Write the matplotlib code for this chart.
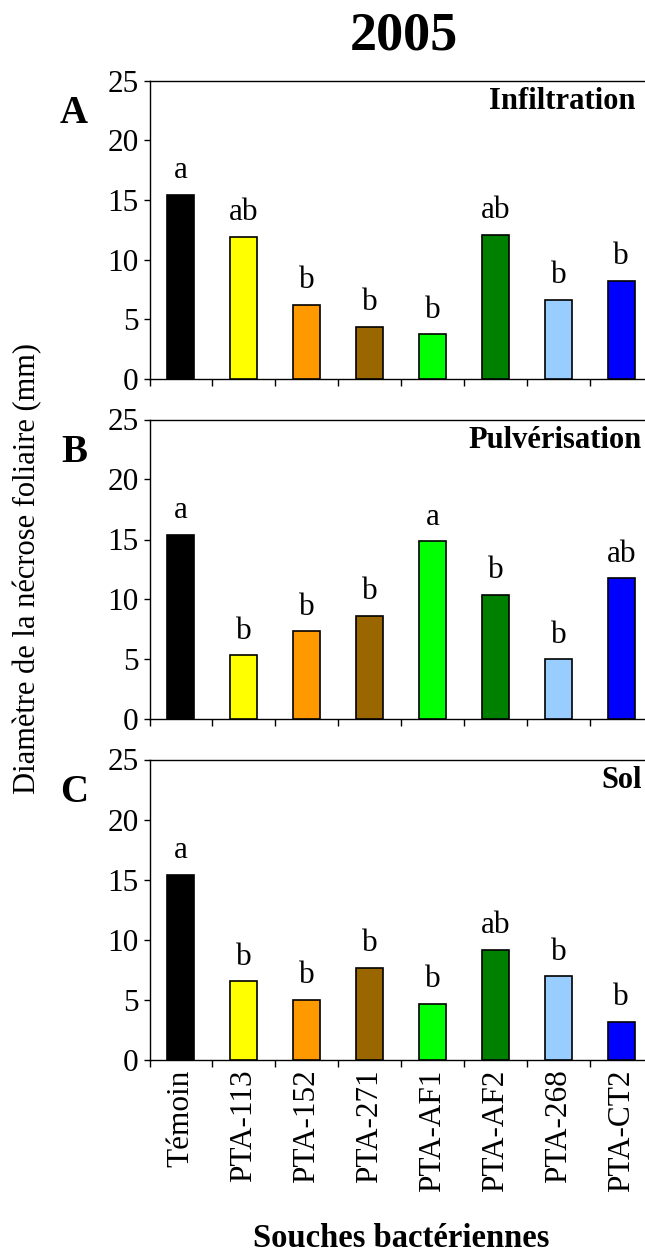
import matplotlib
matplotlib.use('Agg')
import matplotlib.pyplot as plt

# Données (diamètre de la nécrose, mm)
souches = ['Témoin', 'PTA-113', 'PTA-152', 'PTA-271', 'PTA-AF1', 'PTA-AF2', 'PTA-268', 'PTA-CT2']
couleurs = ['#000000', '#FFFF00', '#FF9900', '#996600', '#00FF00', '#008000', '#99CCFF', '#0000FF']

infiltration = [15.45, 11.9, 6.2, 4.35, 3.75, 12.05, 6.6, 8.2]
infiltration_lettres = ['a', 'ab', 'b', 'b', 'b', 'ab', 'b', 'b']

pulverisation = [15.4, 5.35, 7.35, 8.65, 14.85, 10.4, 5.0, 11.75]
pulverisation_lettres = ['a', 'b', 'b', 'b', 'a', 'b', 'b', 'ab']

sol = [15.4, 6.55, 5.0, 7.65, 4.7, 9.15, 6.95, 3.2]
sol_lettres = ['a', 'b', 'b', 'b', 'b', 'ab', 'b', 'b']

W, H = 645, 1257
plt.rcParams['font.family'] = ['Liberation Serif', 'DejaVu Serif']

fig = plt.figure(figsize=(W / 100, H / 100), dpi=100)
fig.patch.set_facecolor('white')


def px(x, y):
    # pixels -> coordonnées figure
    return x / W, 1 - y / H


panneaux = [
    ('A', 'Infiltration', infiltration, infiltration_lettres, 80.5, 379.0, 635),
    ('B', 'Pulvérisation', pulverisation, pulverisation_lettres, 419.5, 719.5, 642),
    ('C', 'Sol', sol, sol_lettres, 759.5, 1060.0, 642),
]

left, right = 149.5, 652.7
x = list(range(len(souches)))

for i, (lettre, titre, valeurs, groupes, top, bottom, xtitre) in enumerate(panneaux):
    ax = fig.add_axes([left / W, 1 - bottom / H, (right - left) / W, (bottom - top) / H])
    ax.bar(x, valeurs, width=0.43, color=couleurs, edgecolor='black', linewidth=1.2, zorder=3)

    for xi, v, g in zip(x, valeurs, groupes):
        ax.annotate(g, (xi, v), xytext=(0, 7), textcoords='offset points',
                    ha='center', va='bottom', fontsize=22.5)

    ax.set_xlim(-0.5, len(souches) - 0.5)
    ax.set_ylim(0, 25)
    ax.set_yticks([0, 5, 10, 15, 20, 25])
    ax.tick_params(axis='y', labelsize=22.5, length=4, width=1, direction='out', pad=4)

    ax.set_xticks([k - 0.5 for k in range(len(souches) + 1)])
    ax.set_xticklabels([])
    ax.tick_params(axis='x', which='major', length=5, width=1, direction='out')
    ax.set_xticks(x, minor=True)
    if i == len(panneaux) - 1:
        ax.set_xticklabels(souches, minor=True, rotation=90, fontsize=22.5)
    else:
        ax.set_xticklabels([], minor=True)
    ax.tick_params(axis='x', which='minor', length=0, pad=7)

    for s in ax.spines.values():
        s.set_linewidth(1)
        s.set_color('black')

    fig.text(*px(xtitre, top + 21), titre, ha='right', va='center',
             fontsize=22, fontweight='bold')
    fig.text(*px(74, top + 33), lettre, ha='center', va='center',
             fontsize=28, fontweight='bold')

fig.text(*px(404, 36), '2005', ha='center', va='center', fontsize=39, fontweight='bold')
fig.text(*px(28, 569), 'Diamètre de la nécrose foliaire (mm)', rotation=90,
         ha='center', va='center', fontsize=22)
fig.text(*px(401, 1247), 'Souches bactériennes', ha='center', va='baseline',
         fontsize=23.5, fontweight='bold')

fig.savefig('out.png', dpi=100, facecolor='white')
